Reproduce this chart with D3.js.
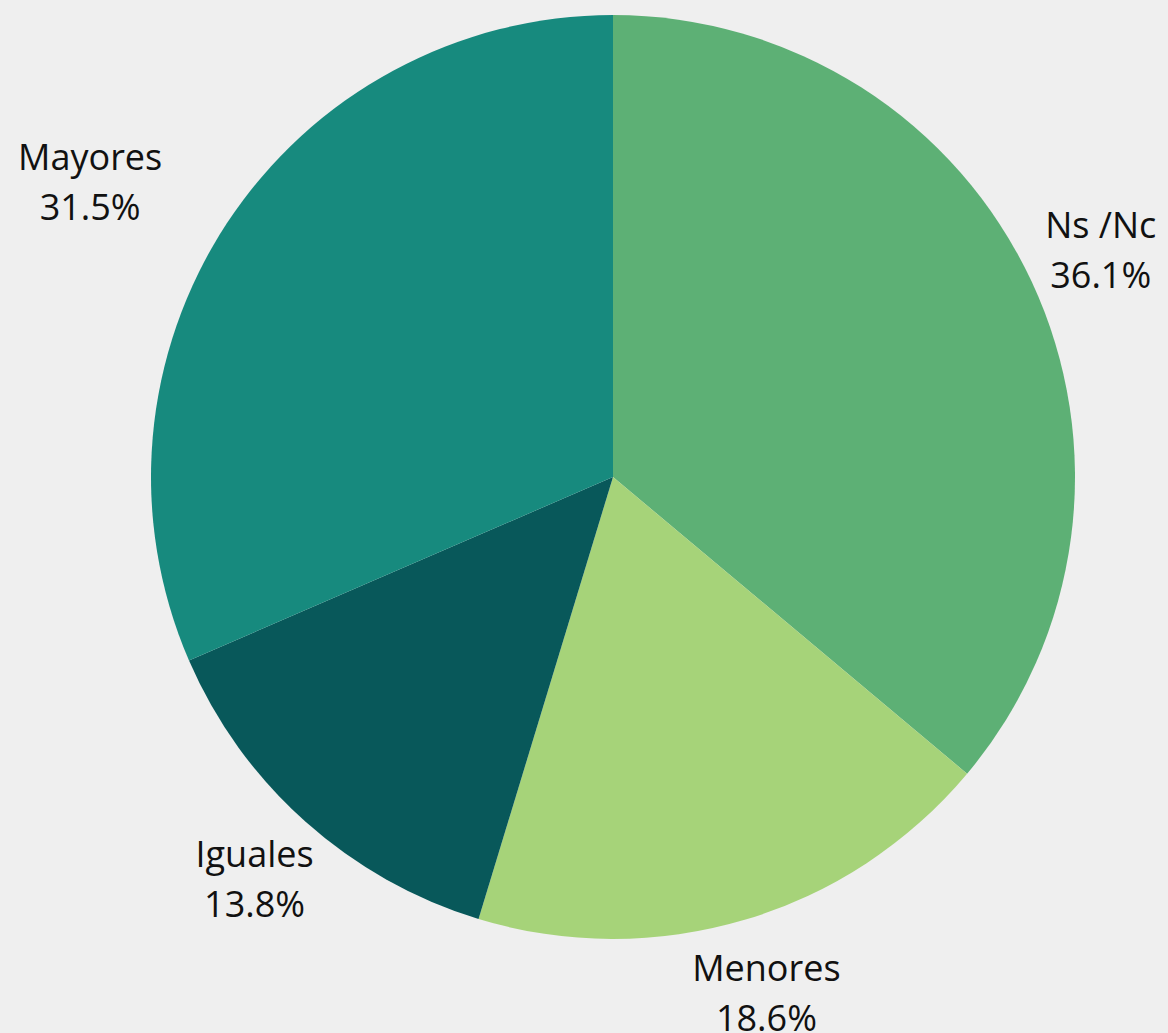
<!DOCTYPE html>
<html>
<head>
<meta charset="utf-8">
<script src="https://cdn.jsdelivr.net/npm/d3@7"></script>
<style>
  html, body { margin: 0; padding: 0; background: #efefef; }
  svg { display: block; }
</style>
</head>
<body>
<svg id="chart" width="1168" height="1033"></svg>
<script>
const categories = ["Ns /Nc", "Menores", "Iguales", "Mayores"];
const values = [36.1, 18.6, 13.8, 31.5];
const percentLabels = ["36.1%", "18.6%", "13.8%", "31.5%"];
const colors = ["#5db075", "#a6d379", "#08585a", "#178a7e"];

const W = 1168, H = 1033;
const cx = 613, cy = 477, R = 462;
const labelR = R * 1.165;
const clearance = 51;

const svg = d3.select("#chart");
svg.append("rect").attr("width", W).attr("height", H).attr("fill", "#efefef");

const data = categories.map((c, i) => ({ cat: c, value: values[i], pct: percentLabels[i], color: colors[i] }));
const pie = d3.pie().sort(null).value(d => d.value);
const arcs = pie(data);
const arc = d3.arc().innerRadius(0).outerRadius(R);
const labelArc = d3.arc().innerRadius(labelR).outerRadius(labelR);

const g = svg.append("g").attr("transform", `translate(${cx},${cy})`);

g.selectAll("path.slice")
  .data(arcs)
  .join("path")
  .attr("class", "slice")
  .attr("d", arc)
  .attr("fill", d => d.data.color);

const labels = g.selectAll("text.lbl")
  .data(arcs)
  .join("text")
  .attr("class", "lbl")
  .attr("text-anchor", "middle")
  .style("font-family", "'Open Sans', 'Noto Sans', sans-serif")
  .style("font-size", "36px")
  .attr("fill", "#111");

labels.each(function(d) {
  const [x, y] = labelArc.centroid(d);
  const t = d3.select(this);
  t.append("tspan").attr("x", 0).attr("y", 0).text(d.data.cat);
  t.append("tspan").attr("x", 0).attr("dy", 50).text(d.data.pct);
  const bb = this.getBBox();
  let tx = x - (bb.x + bb.width / 2);
  let ty = y - (bb.y + bb.height / 2);
  const minDist = (dx) => {
    const xs = [bb.x + dx + tx, bb.x + bb.width + dx + tx];
    const ys = [bb.y + ty, bb.y + bb.height + ty];
    let m = Infinity;
    xs.forEach(a => ys.forEach(b => { m = Math.min(m, Math.hypot(a, b)); }));
    return m;
  };
  let shift = 0;
  if (minDist(0) < R) {
    const dir = x < 0 ? -1 : 1;
    while (minDist(shift) < R + clearance && Math.abs(shift) < 300) shift += dir;
  }
  t.attr("transform", `translate(${tx + shift},${ty})`);
});
</script>
</body>
</html>
